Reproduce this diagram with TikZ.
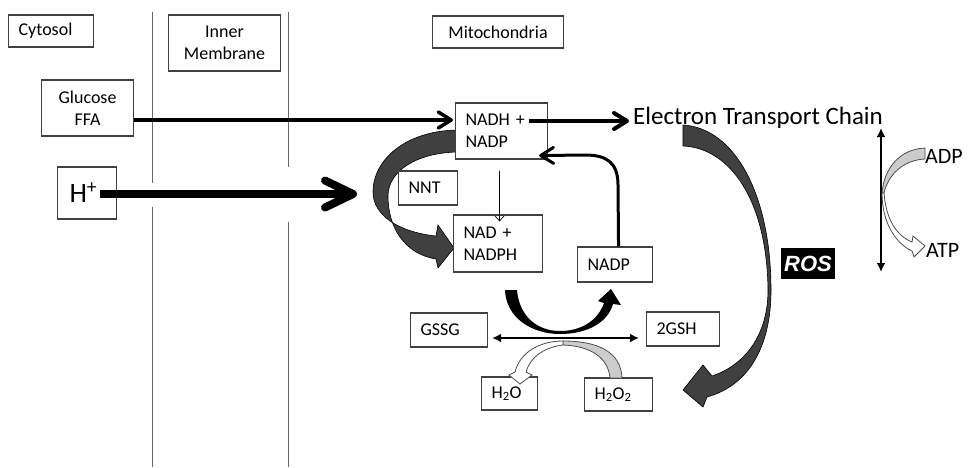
\documentclass[tikz,border=0pt]{standalone}
\usepackage{fontspec}
\setmainfont{Carlito}
\newfontfamily\rosfont{Liberation Sans}
\usetikzlibrary{arrows.meta,calc}

\tikzset{
  box/.style={draw=black!75, line width=1.1pt, fill=white, inner xsep=10pt, inner ysep=0pt,
    anchor=west, font=\fontsize{18}{22}\selectfont},
  lbox/.style={box, text width=#1, align=left},
  cbox/.style={box, text width=#1, align=center},
  membrane/.style={draw=black!60, line width=1pt},
  flow/.style={line width=3.5pt, -{Straight Barb[length=13pt,width=16pt,round]}},
  swap/.style={line width=2.2pt, {Latex[length=9pt,width=9pt]}-{Latex[length=9pt,width=9pt]}},
  ribbon/.style={fill=black!75, draw=black, line width=0.6pt},
  lightband/.style={fill=black!20, draw=black!70, line width=0.8pt},
  openband/.style={fill=white, draw=black!70, line width=0.8pt},
}

\begin{document}
\begin{tikzpicture}[x=1pt,y=-1pt]
  \useasboundingbox (0,0) rectangle (968,467);

  % Membranes
  \draw[membrane] (152,12) -- (152,183) (152,207) -- (152,467);
  \draw[membrane] (288,12) -- (288,167) (288,222) -- (288,467);

  % NNT ribbon
  \draw[ribbon] (457,130) .. controls (405,131) and (373,160) .. (373,192)
    .. controls (373,215) and (398,232) .. (436,236) -- (438,225) -- (454,248) -- (438,268) -- (436,259)
    .. controls (405,254) and (388,228) .. (388,196)
    .. controls (388,172) and (415,153) .. (457,152) -- cycle;

  % ROS ribbon
  \draw[ribbon] (683,125) .. controls (735,128) and (771,195) .. (771,290)
    .. controls (771,345) and (750,385) .. (707,397) -- (703,407) -- (683,390) -- (703,365) -- (712,376)
    .. controls (745,365) and (768,335) .. (768,290)
    .. controls (767,200) and (730,148) .. (683,146) -- cycle;

  % Boxes
  \node[lbox=65pt, minimum height=32pt] (cyto) at (8,31) {Cytosol};
  \node[cbox=92pt, minimum height=56pt] (inner) at (168,43) {Inner\\Membrane};
  \node[cbox=111pt, minimum height=32pt] (mito) at (432,32) {Mitochondria};
  \node[cbox=72pt, minimum height=56pt] (glu) at (41,108) {Glucose\\FFA};
  \node[lbox=35pt, inner xsep=12pt, minimum height=52pt,
    font=\fontsize{28}{30}\selectfont] (hp) at (57,193) {H\textsuperscript{+}};
  \node[lbox=72pt, minimum height=56pt] (nadh) at (455,131) {NADH +\\NADP};
  \node[lbox=39pt, minimum height=34pt] (nnt) at (398,188) {NNT};
  \node[lbox=69pt, minimum height=57pt] (nadph) at (453,243.5) {NAD +\\NADPH};
  \node[lbox=55pt, minimum height=35pt] (nadpr) at (577,264.5) {NADP};
  \node[lbox=57pt, minimum height=34pt] (gssg) at (410,330) {GSSG};
  \node[lbox=53pt, minimum height=34pt] (gsh) at (646,329) {2GSH};
  \node[lbox=36pt, minimum height=33pt] (hwo) at (481,393.5) {H\textsubscript{2}O};
  \node[lbox=48pt, minimum height=33pt] (hwoo) at (584,394.5) {H\textsubscript{2}O\textsubscript{2}};

  % Labels
  \node[anchor=base west, inner sep=0pt, font=\fontsize{25}{28}\selectfont] (etc) at (633,124) {Electron Transport Chain};
  \node[fill=black, text=white, inner sep=2pt, minimum width=54pt, minimum height=31pt,
    font={\rosfont\bfseries\itshape\fontsize{22}{24}\selectfont}] (ros) at (808,263.5) {ROS};
  \node[anchor=base west, inner sep=0pt, font=\fontsize{22}{24}\selectfont] (adp) at (925,163) {ADP};
  \node[anchor=base west, inner sep=0pt, font=\fontsize{22}{24}\selectfont] (atp) at (926,257) {ATP};

  % Arrows
  \draw[flow] ($(glu.east)+(0,12)$) -- ($(nadh.west)+(-2,-11)$);
  \draw[flow, line width=4pt] ($(nadh.center)+(27,-10)$) -- ($(etc.base west)+(-4,-3)$);
  \coordinate (hptip) at (357,194);
  \draw[line width=8pt, -{Straight Barb[length=28pt,width=27pt,round]}] ($(hp.center)+(13,1)$) -- (hptip);
  \draw[line width=0.7pt, -{Straight Barb[length=5pt,width=9pt]}] ($(nadh.south)+(-2,11)$) -- ($(nadph.north)+(1.5,7)$);
  \draw[flow, line width=3pt] ($(nadpr.north)+(3.5,0)$) -- (618,185)
    .. controls (618,162) and (606,155) .. (585,155) -- ($(nadh.south east)+(-9,-4)$);
  \draw[swap] ($(gssg.east)+(4,8)$) -- ($(gsh.west)+(-7,9)$);
  \coordinate (mtop) at (881,128);
  \coordinate (mbot) at (881,272);
  \draw[swap] (mtop) -- (mbot);

  % NADPH to NADP
  \fill (505,290) .. controls (506,318) and (532,334) .. (560,334)
    .. controls (588,334) and (608,322) .. (613,304) -- (621,305) -- (611,289) -- (598,301) -- (604,303)
    .. controls (598,320) and (582,331) .. (560,331)
    .. controls (536,331) and (519,315) .. (517,290) -- cycle;

  % H2O2 to H2O
  \draw[lightband] (622,378) .. controls (621,352) and (598,341) .. (563,341)
    -- (563,345) .. controls (590,346) and (608,357) .. (610,378) -- cycle;
  \draw[openband] (563,341) .. controls (540,341) and (520,352) .. (515,372) -- (509,375) -- (520,384)
    -- (532,375) -- (526,372) .. controls (530,357) and (545,347) .. (563,345) -- cycle;

  % ADP to ATP
  \draw[lightband] (925,148) .. controls (900,149) and (884,168) .. (882,193)
    -- (884,193) .. controls (888,175) and (903,160) .. (925,159) -- cycle;
  \draw[openband] (882,193) .. controls (882,222) and (895,243) .. (912,251) -- (914,257) -- (925,246)
    -- (913,236) -- (912,242) .. controls (897,236) and (886,220) .. (884,193) -- cycle;
\end{tikzpicture}
\end{document}
